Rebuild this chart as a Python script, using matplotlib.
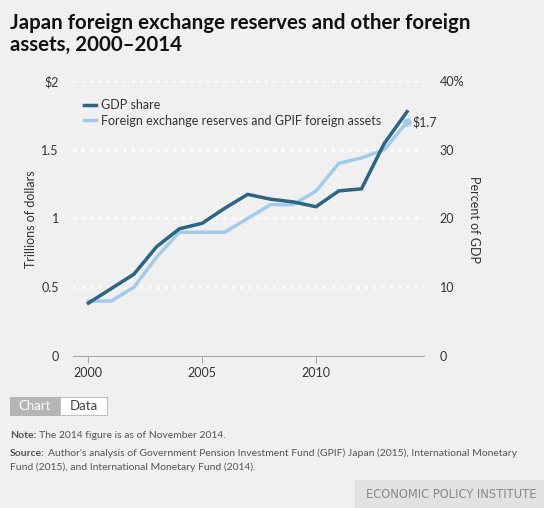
import numpy as np
import matplotlib.pyplot as plt
from matplotlib.patches import Rectangle

years = [2000, 2001, 2002, 2003, 2004, 2005, 2006, 2007,
         2008, 2009, 2010, 2011, 2012, 2013, 2014]
# GDP share, percent of GDP (right axis)
gdp_share = [7.7, 9.8, 11.9, 15.9, 18.5, 19.3, 21.5, 23.5,
             22.8, 22.4, 21.7, 24.0, 24.3, 30.9, 35.5]
# Foreign exchange reserves and GPIF foreign assets, trillions of dollars
reserves = [0.40, 0.40, 0.50, 0.72, 0.90, 0.90, 0.90, 1.00,
            1.10, 1.10, 1.20, 1.40, 1.44, 1.50, 1.70]

left_ticks = [0, 0.5, 1, 1.5, 2]
left_labels = ["0", "0.5", "1", "1.5", "$2"]
right_ticks = [0, 10, 20, 30, 40]
right_labels = ["0", "10", "20", "30", "40%"]
x_ticks = [2000, 2005, 2010]

bg = "#f0f0f0"
dark = "#2c6482"
light = "#a3cbe9"
txt = "#333333"
plt.rcParams['font.family'] = ['Lato', 'DejaVu Sans']

fig = plt.figure(figsize=(5.44, 5.08), dpi=100, facecolor=bg)
ax = fig.add_axes([0.1336, 0.299, 0.6464, 0.542])
ax.set_facecolor(bg)
ax2 = ax.twinx()

ax.set_xlim(1999.31, 2014.76)
ax.set_ylim(0, 2)
ax2.set_ylim(0, 40)

for v in left_ticks[1:]:
    ax.axhline(v, color="white", lw=2, ls=(0, (1, 2)), zorder=0)

h1, = ax2.plot(years, gdp_share, color=dark, lw=2.5, label="GDP share", zorder=3)
h2, = ax.plot(years, reserves, color=light, lw=2.5,
              label="Foreign exchange reserves and GPIF foreign assets", zorder=2)
ax.plot(years[-1], reserves[-1], "o", color=light, ms=5)
ax.text(years[-1] + 0.25, reserves[-1], "$1.7", fontsize=9, color=txt,
        va="center", ha="left")

for a in (ax, ax2):
    for s in a.spines.values():
        s.set_visible(False)
ax.spines["bottom"].set_visible(True)
ax.spines["bottom"].set_color("#aaaaaa")

ax.set_yticks(left_ticks)
ax.set_yticklabels(left_labels)
ax.tick_params(axis="y", length=0, pad=10, labelsize=9, labelcolor=txt)
ax2.set_yticks(right_ticks)
ax2.set_yticklabels(right_labels)
ax2.tick_params(axis="y", length=0, pad=11, labelsize=9, labelcolor=txt)
ax.set_xticks(x_ticks)
ax.tick_params(axis="x", length=5, color="#aaaaaa", labelsize=9,
               labelcolor=txt, pad=3)

fig.text(31 / 544, 1 - 219 / 508, "Trillions of dollars", fontsize=9,
         color=txt, rotation=90, ha="center", va="center")
fig.text(474 / 544, 1 - 219 / 508, "Percent of GDP", fontsize=9,
         color=txt, rotation=270, ha="center", va="center")

# legend
leg = ax.legend([h1, h2], [h1.get_label(), h2.get_label()],
                loc="upper left", bbox_to_anchor=(0.0, 0.975), frameon=False,
                fontsize=9, handlelength=1.0, handletextpad=0.4,
                labelspacing=0.3)
for t in leg.get_texts():
    t.set_color(txt)

fig.text(0.018, 0.975, "Japan foreign exchange reserves and other foreign\nassets, 2000\u20132014",
         fontsize=14.8, fontweight="bold", color="#111111", va="top",
         ha="left", linespacing=1.12)

# Chart / Data toggle
fig.patches.append(Rectangle((10 / 544, 1 - 415 / 508), 50 / 544, 18 / 508,
                             transform=fig.transFigure, facecolor="#b5b5b5",
                             edgecolor="#b5b5b5", lw=0.8))
fig.patches.append(Rectangle((60 / 544, 1 - 415 / 508), 47 / 544, 18 / 508,
                             transform=fig.transFigure, facecolor="white",
                             edgecolor="#c0c0c0", lw=0.8))
fig.text(35 / 544, 1 - 406 / 508, "Chart", fontsize=9.5, color="white",
         ha="center", va="center")
fig.text(83.5 / 544, 1 - 406 / 508, "Data", fontsize=9.5, color="#444444",
         ha="center", va="center")

note_col = "#555555"
n = fig.text(10 / 544, 1 - 438 / 508, "Note:", fontsize=7.5,
             fontweight="bold", color=note_col, va="baseline")
fig.add_artist(plt.Annotation("The 2014 figure is as of November 2014.",
                              xy=(1, 0), xycoords=n, xytext=(2, 0),
                              textcoords="offset points", fontsize=7.5,
                              color=note_col, va="bottom", ha="left"))
s = fig.text(10 / 544, 1 - 456 / 508, "Source:", fontsize=7.5,
             fontweight="bold", color=note_col, va="baseline")
fig.add_artist(plt.Annotation(
    "Author's analysis of Government Pension Investment Fund (GPIF) Japan (2015), International Monetary",
    xy=(1, 0), xycoords=s, xytext=(2, 0), textcoords="offset points",
    fontsize=7.5, color=note_col, va="bottom", ha="left"))
fig.text(10 / 544, 1 - 470 / 508,
         "Fund (2015), and International Monetary Fund (2014).",
         fontsize=7.5, color=note_col, va="baseline")

fig.patches.append(Rectangle((355 / 544, 0), 189 / 544, 28 / 508,
                             transform=fig.transFigure, facecolor="#e2e2e2",
                             edgecolor="none"))
fig.text(537 / 544, 14 / 508, "ECONOMIC POLICY INSTITUTE", fontsize=8.3,
         color="#888888", ha="right", va="center",
         family="DejaVu Sans Condensed")

fig.savefig("out.png", dpi=100, facecolor=bg)
